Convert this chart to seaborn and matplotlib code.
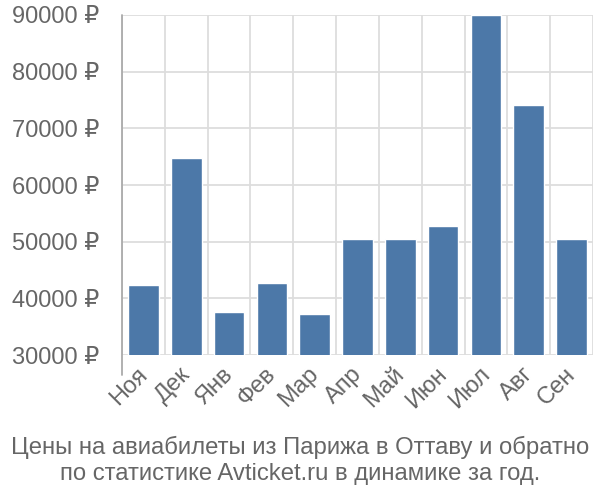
import matplotlib
matplotlib.use("Agg")
import matplotlib.pyplot as plt
import matplotlib.transforms as mtrans
import seaborn as sns
import numpy as np

months = ["Ноя", "Дек", "Янв", "Фев", "Мар", "Апр", "Май", "Июн", "Июл", "Авг", "Сен"]
prices = [42350, 64700, 37550, 42700, 37200, 50450, 50450, 52750, 90000, 74200, 50450]
yticks = [30000, 40000, 50000, 60000, 70000, 80000, 90000]
title_lines = ["Цены на авиабилеты из Парижа в Оттаву и обратно",
               "по статистике Avticket.ru в динамике за год."]

sns.set_style("white")
plt.rcParams['font.family'] = ['Liberation Sans', 'DejaVu Sans']

fig = plt.figure(figsize=(6, 5), dpi=100)
ax = fig.add_axes([122/600, 1-355/500, 471/600, 340/500])

sns.barplot(x=months, y=prices, color="#4c78a8", width=0.715, saturation=1, ax=ax, zorder=3)

ax.set_ylim(30000, 90000)
ax.set_xlim(-0.5, len(months) - 0.5)
ax.set_yticks(yticks)
ax.set_yticklabels([f"{v} ₽" for v in yticks])
ax.set_xlabel("")
ax.set_ylabel("")

fs = 17
grid_c = "#dddddd"
ax.set_xticks(np.arange(-0.5, len(months), 1.0), minor=True)
ax.grid(True, which="minor", axis="x", color=grid_c, lw=1.3, zorder=0)
ax.grid(True, which="major", axis="y", color=grid_c, lw=1.3, zorder=0)
ax.tick_params(axis="x", which="major", length=0, labelsize=fs, labelcolor="#666666", pad=3)
ax.tick_params(axis="x", which="minor", length=14.4, width=1.3, color=grid_c)
ax.tick_params(axis="y", which="major", length=14.4, width=1.3, color=grid_c,
               labelsize=fs, labelcolor="#666666", pad=2)
offset = mtrans.ScaledTranslation(-7/100, -4/100, fig.dpi_scale_trans)
for lbl in ax.get_xticklabels():
    lbl.set_rotation(45)
    lbl.set_ha("right")
    lbl.set_rotation_mode("anchor")
    lbl.set_transform(lbl.get_transform() + offset)

for s in ax.spines.values():
    s.set_visible(False)
ax.axvline(-0.5, ymin=-20/340, ymax=1, clip_on=False, color="#aaaaaa", lw=1.3, zorder=4)

fig.text(0.5, 1-447/500, title_lines[0], ha="center", va="center", fontsize=17.2, color="#666666")
fig.text(0.5, 1-474/500, title_lines[1], ha="center", va="center", fontsize=17.2, color="#666666")

fig.savefig("out.png", dpi=100)
